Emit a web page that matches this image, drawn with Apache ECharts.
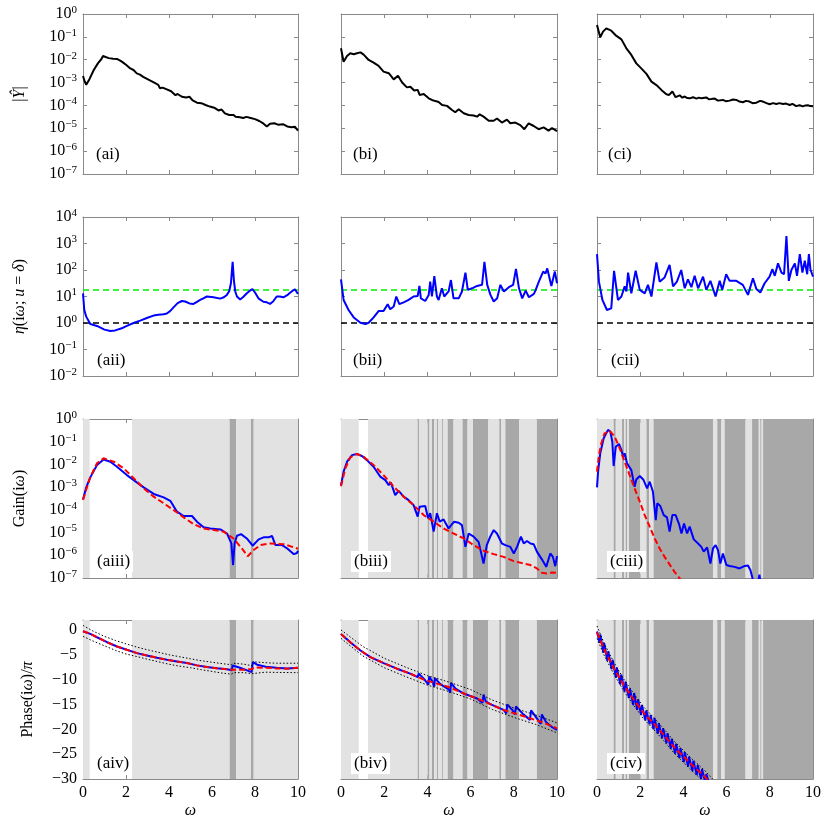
<!DOCTYPE html>
<html><head><meta charset="utf-8">
<script src="https://cdn.jsdelivr.net/npm/echarts@6/dist/echarts.min.js"></script>
<style>html,body{margin:0;padding:0;background:#fff}#c{width:830px;height:830px}</style>
</head><body><div id="c"></div>
<script>
// ---------- DATA (log10 values for log rows) ----------
const absY_ai = [[0,-2.71],[0.08,-2.95],[0.15,-3.1],[0.3,-2.85],[0.5,-2.45],[0.7,-2.15],[0.85,-1.98],[0.93,-1.84],[1.05,-1.88],[1.2,-1.93],[1.4,-1.96],[1.6,-1.97],[1.77,-2.06],[1.9,-2.15],[2.0,-2.22],[2.2,-2.38],[2.35,-2.45],[2.5,-2.6],[2.65,-2.65],[2.8,-2.75],[3.0,-2.85],[3.2,-2.95],[3.4,-3.05],[3.5,-3.1],[3.58,-3.25],[3.7,-3.22],[3.9,-3.3],[4.1,-3.38],[4.3,-3.55],[4.4,-3.5],[4.6,-3.62],[4.8,-3.65],[4.95,-3.62],[5.1,-3.78],[5.3,-3.88],[5.5,-3.9],[5.7,-3.98],[5.9,-4.05],[6.1,-4.1],[6.3,-4.22],[6.45,-4.18],[6.6,-4.35],[6.8,-4.42],[7.0,-4.42],[7.1,-4.5],[7.3,-4.52],[7.45,-4.55],[7.6,-4.5],[7.8,-4.55],[8.0,-4.6],[8.2,-4.68],[8.4,-4.8],[8.55,-4.92],[8.7,-4.8],[8.9,-4.78],[9.1,-4.85],[9.3,-4.82],[9.5,-4.92],[9.7,-4.95],[9.85,-4.93],[10,-5.1]];
const absY_bi = [[0,-1.5],[0.12,-2.09],[0.28,-1.84],[0.43,-1.72],[0.59,-1.76],[0.74,-1.72],[0.9,-1.68],[1.05,-1.78],[1.28,-2.01],[1.51,-2.13],[1.74,-2.27],[1.97,-2.52],[2.21,-2.59],[2.44,-2.86],[2.64,-2.7],[2.83,-3.0],[3.05,-3.21],[3.21,-3.18],[3.39,-3.35],[3.55,-3.32],[3.64,-3.54],[3.83,-3.5],[4.06,-3.69],[4.21,-3.76],[4.37,-3.81],[4.52,-3.85],[4.68,-3.98],[4.91,-4.02],[5.14,-4.2],[5.29,-4.3],[5.45,-4.17],[5.68,-4.34],[5.91,-4.42],[6.14,-4.44],[6.3,-4.49],[6.42,-4.39],[6.6,-4.49],[6.84,-4.67],[7.07,-4.67],[7.22,-4.57],[7.45,-4.75],[7.68,-4.62],[7.84,-4.78],[8.07,-4.75],[8.3,-4.86],[8.49,-5.04],[8.69,-4.78],[8.92,-4.9],[9.15,-5.04],[9.38,-4.96],[9.61,-5.1],[9.77,-4.99],[10,-5.12]];
const absY_ci = [[0,-0.48],[0.15,-1.02],[0.28,-0.77],[0.43,-0.63],[0.66,-0.73],[0.9,-0.96],[1.13,-1.11],[1.36,-1.5],[1.59,-1.79],[1.82,-2.16],[2.05,-2.38],[2.29,-2.62],[2.52,-2.96],[2.75,-3.11],[2.98,-3.32],[3.21,-3.51],[3.34,-3.54],[3.49,-3.39],[3.64,-3.64],[3.83,-3.56],[3.95,-3.66],[4.06,-3.61],[4.18,-3.68],[4.29,-3.69],[4.45,-3.64],[4.6,-3.7],[4.72,-3.66],[4.83,-3.69],[5.06,-3.65],[5.18,-3.73],[5.29,-3.72],[5.45,-3.7],[5.6,-3.79],[5.83,-3.76],[5.98,-3.82],[6.14,-3.79],[6.3,-3.74],[6.45,-3.76],[6.6,-3.83],[6.75,-3.86],[6.9,-3.8],[7.06,-3.83],[7.2,-3.9],[7.38,-3.88],[7.55,-3.8],[7.68,-3.83],[7.85,-3.9],[7.99,-3.95],[8.15,-3.9],[8.3,-3.94],[8.45,-3.9],[8.61,-3.94],[8.75,-3.92],[8.92,-3.98],[9.05,-3.93],[9.22,-4.03],[9.38,-3.99],[9.53,-4.04],[9.65,-4.0],[9.76,-3.99],[9.88,-4.03],[10,-4.04]];

const eta_aii = [[0,1.12],[0.06,0.49],[0.15,0.24],[0.34,-0.04],[0.65,-0.11],[1.0,-0.25],[1.27,-0.3],[1.5,-0.28],[1.8,-0.2],[2.04,-0.11],[2.35,0.0],[2.66,0.09],[3.0,0.2],[3.28,0.28],[3.5,0.31],[3.75,0.33],[3.9,0.36],[4.05,0.45],[4.21,0.59],[4.4,0.75],[4.6,0.83],[4.75,0.81],[4.95,0.74],[5.14,0.72],[5.3,0.8],[5.45,0.87],[5.6,0.93],[5.76,1.0],[6.07,0.97],[6.38,0.92],[6.55,0.97],[6.69,1.06],[6.8,1.2],[6.88,1.5],[6.96,2.31],[7.02,1.6],[7.08,1.2],[7.16,1.0],[7.31,0.89],[7.45,0.98],[7.62,1.12],[7.76,1.22],[7.88,1.28],[8.0,1.15],[8.16,0.93],[8.39,0.8],[8.55,0.78],[8.7,0.72],[8.85,0.82],[9.01,1.0],[9.15,1.0],[9.32,0.97],[9.5,1.05],[9.63,1.14],[9.75,1.22],[9.86,1.27],[9.93,1.18],[10,1.1]];
const eta_bii = [[0,1.65],[0.12,0.87],[0.35,0.49],[0.59,0.21],[0.9,0.01],[1.13,-0.04],[1.28,0.01],[1.51,0.21],[1.74,0.45],[1.97,0.45],[2.16,0.71],[2.28,0.52],[2.44,0.62],[2.56,1.0],[2.7,0.71],[2.9,0.78],[3.13,0.87],[3.36,1.0],[3.55,1.02],[3.63,1.4],[3.7,0.93],[3.9,0.83],[4.06,1.06],[4.13,1.56],[4.21,1.0],[4.32,1.77],[4.44,1.0],[4.52,0.87],[4.67,1.31],[4.78,1.0],[4.98,1.19],[5.09,1.62],[5.21,0.93],[5.45,0.93],[5.6,1.19],[5.76,1.9],[5.87,1.25],[6.07,1.31],[6.3,1.4],[6.53,1.44],[6.64,2.31],[6.77,1.44],[6.92,1.06],[7.07,0.81],[7.23,0.93],[7.38,1.44],[7.54,1.19],[7.77,1.35],[7.97,1.44],[8.1,2.04],[8.24,1.31],[8.39,0.93],[8.55,1.22],[8.7,0.97],[8.93,1.1],[9.0,1.22],[9.16,1.56],[9.36,1.94],[9.47,1.87],[9.55,2.06],[9.74,1.4],[9.9,1.94],[10,1.5]];
const eta_cii = [[0,2.6],[0.09,1.56],[0.25,0.87],[0.46,0.49],[0.66,0.55],[0.79,1.97],[0.97,0.87],[1.13,1.0],[1.28,1.38],[1.36,1.19],[1.44,1.9],[1.59,1.12],[1.79,1.97],[1.98,1.25],[2.21,1.12],[2.36,1.44],[2.52,1.0],[2.75,2.29],[2.9,1.56],[3.13,1.72],[3.36,2.19],[3.52,1.38],[3.7,1.56],[3.9,2.0],[4.06,1.31],[4.21,1.65],[4.37,1.35],[4.52,1.78],[4.68,1.31],[4.91,1.75],[5.06,1.25],[5.25,1.59],[5.49,1.0],[5.68,1.59],[5.8,1.25],[5.98,1.84],[6.14,1.59],[6.45,1.59],[6.75,1.44],[6.99,1.06],[7.22,1.69],[7.38,1.28],[7.56,1.15],[7.76,1.5],[7.99,1.75],[8.12,2.03],[8.23,1.78],[8.38,2.25],[8.54,1.9],[8.66,1.84],[8.77,3.28],[8.88,1.59],[9.0,2.0],[9.16,2.25],[9.26,1.78],[9.39,2.6],[9.51,1.9],[9.62,2.35],[9.73,1.84],[9.81,2.6],[9.88,2.03],[10,1.75]];
const etaThreshold = 1.245;   // log10 of the green dashed level (~17.6)
const etaUnity = 0;           // log10(1)

const gainBlue_a = [[0,-3.54],[0.15,-3.01],[0.34,-2.57],[0.65,-2.03],[0.96,-1.78],[1.27,-1.88],[1.58,-2.1],[2.04,-2.47],[2.36,-2.69],[2.82,-3.01],[3.29,-3.3],[3.75,-3.45],[4.06,-3.6],[4.37,-4.08],[4.68,-4.27],[5.07,-4.27],[5.3,-4.52],[5.61,-4.77],[5.92,-4.82],[6.39,-4.86],[6.7,-5.04],[6.9,-5.48],[6.98,-6.43],[7.05,-5.48],[7.16,-5.14],[7.35,-5.07],[7.62,-5.26],[7.89,-5.58],[8.17,-5.3],[8.4,-5.21],[8.63,-5.21],[8.79,-5.15],[8.95,-5.55],[9.26,-5.55],[9.5,-5.7],[9.81,-5.95],[9.95,-5.9],[10,-5.8]];
const gainRed_a = [[0,-3.56],[0.34,-2.55],[0.65,-1.95],[0.96,-1.73],[1.43,-1.88],[1.89,-2.17],[2.36,-2.61],[2.82,-3.05],[3.29,-3.42],[3.75,-3.71],[4.22,-4.01],[4.68,-4.33],[5.15,-4.63],[5.61,-4.82],[6.08,-4.89],[6.54,-4.96],[7.0,-5.26],[7.39,-5.7],[7.66,-6.04],[7.94,-5.77],[8.25,-5.55],[8.71,-5.48],[9.33,-5.51],[10,-5.71]];
const gainBlue_b = [[0,-2.91],[0.12,-2.32],[0.28,-1.88],[0.51,-1.59],[0.74,-1.54],[0.97,-1.63],[1.2,-1.81],[1.51,-2.1],[1.82,-2.54],[2.05,-2.69],[2.21,-2.91],[2.31,-2.8],[2.51,-3.35],[2.67,-3.16],[2.9,-3.42],[3.13,-3.57],[3.36,-3.79],[3.55,-4.3],[3.64,-3.86],[3.9,-3.83],[4.03,-4.37],[4.13,-4.15],[4.29,-4.96],[4.44,-4.15],[4.57,-4.52],[4.75,-4.42],[4.98,-4.82],[5.24,-4.52],[5.45,-4.57],[5.6,-4.67],[5.76,-5.63],[5.91,-5.04],[6.14,-5.18],[6.37,-5.41],[6.6,-6.36],[6.75,-5.55],[6.91,-5.18],[7.07,-4.89],[7.22,-5.04],[7.45,-5.48],[7.61,-5.55],[7.84,-5.63],[8.0,-5.92],[8.15,-5.63],[8.33,-5.18],[8.46,-5.48],[8.61,-5.37],[8.77,-5.48],[8.92,-5.51],[9.07,-5.84],[9.3,-6.18],[9.5,-6.51],[9.69,-5.92],[9.81,-6.07],[9.92,-6.48],[10,-6.04]];
const gainRed_b = [[0,-2.96],[0.2,-2.17],[0.43,-1.69],[0.74,-1.54],[1.05,-1.66],[1.51,-2.03],[1.97,-2.47],[2.44,-2.98],[2.9,-3.42],[3.36,-3.79],[3.83,-4.23],[4.29,-4.52],[4.75,-4.82],[5.21,-5.04],[5.68,-5.26],[6.14,-5.55],[6.6,-5.8],[7.07,-5.95],[7.53,-6.07],[8.0,-6.26],[8.46,-6.36],[8.77,-6.43],[9.07,-6.58],[9.3,-6.77],[9.53,-6.8],[9.76,-6.76],[10,-6.77]];
const gainBlue_c = [[0,-3.01],[0.05,-2.32],[0.15,-1.51],[0.31,-0.85],[0.51,-0.48],[0.62,-0.56],[0.71,-1.0],[0.77,-2.07],[0.87,-1.22],[1.02,-1.1],[1.13,-1.37],[1.21,-1.66],[1.28,-1.51],[1.39,-1.95],[1.48,-1.92],[1.59,-2.25],[1.74,-2.98],[1.82,-2.66],[1.98,-2.51],[2.14,-2.66],[2.32,-3.05],[2.44,-2.76],[2.59,-3.2],[2.72,-4.45],[2.79,-3.71],[2.93,-3.83],[3.09,-4.23],[3.24,-4.33],[3.36,-4.96],[3.49,-4.23],[3.64,-4.23],[3.8,-4.63],[3.91,-5.04],[4.03,-4.6],[4.17,-5.04],[4.29,-4.74],[4.48,-5.3],[4.68,-5.48],[4.83,-5.63],[4.94,-5.84],[5.1,-5.65],[5.25,-6.36],[5.37,-5.7],[5.49,-5.55],[5.6,-5.77],[5.71,-6.36],[5.83,-5.92],[5.99,-6.43],[6.14,-6.47],[6.37,-6.51],[6.6,-6.58],[6.84,-6.47],[6.99,-6.45],[7.1,-6.65],[7.19,-6.97],[7.3,-7.5],[7.45,-7.2],[7.52,-6.85],[7.6,-7.4],[7.7,-8.0]];
const gainRed_c = [[0,-2.32],[0.09,-1.59],[0.2,-1.07],[0.35,-0.63],[0.59,-0.52],[0.82,-0.78],[1.05,-1.29],[1.28,-1.88],[1.51,-2.47],[1.74,-3.05],[1.98,-3.64],[2.21,-4.23],[2.44,-4.74],[2.67,-5.26],[2.9,-5.7],[3.13,-6.07],[3.36,-6.4],[3.59,-6.73],[3.83,-7.02],[4.0,-7.3]];

const phaseRed_a = [[0,-0.27],[0.34,-0.8],[0.65,-1.47],[1.12,-2.47],[1.58,-3.33],[2.04,-4.0],[2.51,-4.67],[2.97,-5.13],[3.44,-5.6],[3.9,-6.0],[4.37,-6.33],[4.83,-6.67],[5.3,-7.13],[5.76,-7.47],[6.23,-7.73],[6.7,-7.93],[6.95,-8.0],[7.0,-7.75],[7.47,-8.0],[7.85,-7.85],[8.0,-7.55],[8.5,-7.6],[9.0,-7.75],[9.5,-7.8],[10,-7.6]];
const phaseBlue_a = [[0,-0.27],[0.34,-0.8],[0.65,-1.47],[1.12,-2.47],[1.58,-3.33],[2.04,-4.0],[2.51,-4.67],[2.97,-5.13],[3.44,-5.6],[3.9,-6.0],[4.37,-6.33],[4.83,-6.67],[5.3,-7.13],[5.76,-7.47],[6.23,-7.73],[6.7,-7.93],[6.92,-8.1],[6.96,-7.15],[7.3,-7.6],[7.6,-8.1],[7.84,-8.5],[7.9,-6.5],[8.1,-7.0],[8.5,-7.4],[9.0,-7.6],[9.5,-7.75],[10,-7.6]];
const phaseUp_a = [[0,0.9],[0.5,-0.3],[1,-1.3],[1.5,-2.1],[2,-2.8],[2.5,-3.45],[3,-4.0],[3.5,-4.5],[4,-5.0],[4.5,-5.4],[5,-5.8],[5.5,-6.2],[6,-6.5],[6.5,-6.8],[6.9,-7.0],[7.0,-6.7],[7.5,-6.9],[7.85,-7.2],[7.9,-6.4],[8.5,-6.6],[9,-6.7],[10,-6.7]];
const phaseLo_a = [[0,-1.3],[0.5,-2.3],[1,-3.2],[1.5,-4.1],[2,-4.85],[2.5,-5.35],[3,-5.9],[3.5,-6.4],[4,-6.9],[4.5,-7.3],[5,-7.6],[5.5,-8.0],[6,-8.35],[6.5,-8.7],[6.9,-8.9],[7.0,-8.6],[7.5,-8.6],[7.85,-8.8],[7.9,-8.4],[8.5,-8.5],[9,-8.55],[10,-8.6]];
const phaseRed_b = [[0,-0.8],[0.43,-2.47],[0.9,-4.13],[1.36,-5.47],[1.97,-6.67],[2.59,-7.8],[3.21,-8.8],[3.83,-10.0],[4.44,-10.8],[5.06,-11.6],[5.68,-12.8],[6.3,-13.8],[6.91,-14.93],[7.53,-16.13],[8.15,-16.93],[8.77,-17.8],[9.38,-18.67],[10,-19.8]];
const phaseBlue_b = [[0,-0.8],[0.43,-2.47],[0.9,-4.13],[1.36,-5.47],[1.97,-6.67],[2.59,-7.8],[3.2,-8.8],[3.55,-9.5],[3.6,-8.8],[3.83,-9.8],[4.05,-11.0],[4.08,-9.4],[4.25,-10.5],[4.32,-11.4],[4.35,-9.7],[4.6,-10.9],[5.0,-12.0],[5.05,-12.6],[5.1,-10.7],[5.3,-11.8],[5.68,-12.8],[6.3,-13.8],[6.55,-14.7],[6.6,-13.0],[6.7,-14.4],[6.91,-14.93],[7.53,-16.1],[7.65,-16.8],[7.7,-15.0],[7.95,-16.2],[8.05,-17.0],[8.1,-15.4],[8.4,-16.8],[8.75,-18.1],[8.8,-16.2],[9.0,-17.4],[9.25,-18.9],[9.3,-17.0],[9.5,-18.6],[9.75,-19.5],[10,-20.1]];
const phaseUp_b = [[0,0.0],[1,-3.3],[2,-5.7],[3,-7.5],[4,-9.2],[5,-10.5],[6,-12.0],[7,-14.1],[8,-15.7],[9,-17.1],[10,-18.7]];
const phaseLo_b = [[0,-1.7],[1,-5.2],[2,-7.6],[3,-9.4],[4,-11.1],[5,-12.4],[6,-13.9],[7,-16.0],[8,-17.6],[9,-19.0],[10,-20.7]];
const phaseRed_c = [[0,-0.47],[0.32,-3.8],[0.79,-7.8],[1.24,-11.1],[1.7,-14.0],[2.16,-16.7],[2.62,-18.8],[3.09,-21.1],[3.55,-23.5],[4.01,-25.5],[4.48,-27.5],[4.94,-29.3],[5.2,-30.5]];
const phaseBlue_c = [[0,-0.3],[0.12,-2.6],[0.15,-0.9],[0.3,-4.6],[0.33,-2.6],[0.48,-6.2],[0.52,-4.3],[0.68,-7.9],[0.72,-6.0],[0.88,-9.6],[0.92,-7.6],[1.08,-11.0],[1.12,-9.0],[1.28,-12.4],[1.32,-10.4],[1.48,-13.7],[1.52,-11.8],[1.68,-15.1],[1.72,-12.7],[1.86,-16.1],[1.9,-14.0],[2.04,-17.1],[2.08,-15.1],[2.24,-18.2],[2.28,-16.2],[2.44,-19.0],[2.48,-17.1],[2.62,-20.0],[2.66,-17.7],[2.82,-20.9],[2.86,-18.8],[3.02,-21.8],[3.06,-19.8],[3.22,-22.8],[3.26,-20.8],[3.42,-23.9],[3.46,-21.9],[3.62,-24.9],[3.66,-22.9],[3.82,-25.8],[3.86,-23.8],[4.02,-26.6],[4.06,-24.6],[4.22,-27.5],[4.26,-25.5],[4.42,-28.4],[4.46,-26.3],[4.62,-29.2],[4.66,-27.2],[4.82,-30.0],[4.86,-28.0],[5.02,-30.8],[5.06,-29.0],[5.2,-31]];
const phaseUp_c = [[0,0.8],[0.32,-2.6],[0.79,-6.6],[1.24,-9.9],[1.7,-12.8],[2.16,-15.5],[2.62,-17.6],[3.09,-19.9],[3.55,-22.3],[4.01,-24.3],[4.48,-26.3],[4.94,-28.1],[5.4,-30.2]];
const phaseLo_c = [[0,-1.7],[0.32,-5.0],[0.79,-9.0],[1.24,-12.3],[1.7,-15.2],[2.16,-17.9],[2.62,-20.0],[3.09,-22.3],[3.55,-24.7],[4.01,-26.7],[4.48,-28.7],[4.94,-30.5]];

// shaded frequency bands: [from, to, level] (1 = light, 2 = dark)
const bands_a = [[0,0.31,1],[2.28,6.82,1],[6.82,7.12,2],[7.12,7.81,1],[7.81,7.94,2],[7.94,10,1]];
const bands_b = [[0,0.82,1],[1.25,3.55,1],[3.55,3.61,2],[3.61,4.01,1],[4.01,4.1,2],[4.1,4.21,1],[4.21,4.32,2],[4.32,4.44,1],[4.44,4.49,2],[4.49,4.68,1],[4.68,4.72,2],[4.72,4.94,1],[4.94,5.21,2],[5.21,5.63,1],[5.63,5.86,2],[5.86,6.11,1],[6.11,6.82,2],[6.82,7.33,1],[7.33,7.41,2],[7.41,7.61,1],[7.61,8.25,2],[8.25,9.07,1],[9.07,10,2]];
const bands_c = [[0,0.77,1],[0.77,0.87,2],[0.87,1.16,1],[1.16,1.25,2],[1.25,1.33,1],[1.33,1.39,2],[1.39,1.48,1],[1.48,2.01,2],[2.01,2.29,1],[2.29,2.41,2],[2.41,2.62,1],[2.62,5.37,2],[5.37,5.57,1],[5.57,5.76,2],[5.76,5.91,1],[5.91,6.88,2],[6.88,7.18,1],[7.18,7.49,2],[7.49,7.56,1],[7.56,7.62,2],[7.62,7.69,1],[7.69,10,2]];

const panelLabels = [['(ai)','(bi)','(ci)'],['(aii)','(bii)','(cii)'],['(aiii)','(biii)','(ciii)'],['(aiv)','(biv)','(civ)']];

// ---------- LAYOUT / STYLE ----------
const FONT = '"Liberation Serif","DejaVu Serif",serif';
const FRAME = '#8a8a8a', LIGHT = '#e2e2e2', DARK = '#a8a8a8';
const colLeft = [83, 341, 597], colW = [215, 216, 216];
const rowTop = [14, 217, 419, 620], rowH = [160, 159, 159, 159];
const yExt = [[-7, 0], [-2, 4], [-7, 0], [-30, 2]];

function expLabel(v) {
  const e = Math.round(v);
  const s = e < 0 ? '\u2212' + (-e) : '' + e;
  return '{b|10}{s|' + s + '}';
}
const expRich = {
  b: {fontSize: 16, fontFamily: FONT, color: '#000', lineHeight: 19},
  s: {fontSize: 11, fontFamily: FONT, color: '#000', verticalAlign: 'top', lineHeight: 11}
};
const yNames = [
  {t: '|{i|Ŷ}|', gap: 55},
  {t: '{i|η}(i{i|ω}; {i|u} = {i|δ})', gap: 55},
  {t: 'Gain(i{i|ω})', gap: 55},
  {t: 'Phase(i{i|ω})/{i|π}', gap: 47}
];
const nameRich = {
  i: {fontStyle: 'italic', fontSize: 16, fontFamily: FONT, color: '#000'}
};

const grids = [], xAxes = [], yAxes = [], series = [], graphics = [];
for (let r = 0; r < 4; r++) {
  for (let c = 0; c < 3; c++) {
    const gi = r * 3 + c;
    grids.push({left: colLeft[c], top: rowTop[r], width: colW[c], height: rowH[r], containLabel: false});
    const xBase = {
      gridIndex: gi, type: 'value', min: 0, max: 10, interval: 2,
      axisLine: {show: true, onZero: false, lineStyle: {color: FRAME, width: 1}},
      axisTick: {show: true, inside: true, length: 4, lineStyle: {color: FRAME}},
      splitLine: {show: false}
    };
    xAxes.push(Object.assign({}, xBase, {
      position: 'bottom',
      axisLabel: {show: r === 3, color: '#000', fontSize: 16, fontFamily: FONT, margin: 6},
      name: r === 3 ? 'ω' : '', nameLocation: 'middle', nameGap: 24,
      nameTextStyle: {fontStyle: 'italic', fontSize: 16, fontFamily: FONT, color: '#000'}
    }));
    xAxes.push(Object.assign({}, xBase, {position: 'top', axisLabel: {show: false}}));
    const [ymin, ymax] = yExt[r];
    const yBase = {
      gridIndex: gi, type: 'value', min: ymin, max: ymax, interval: r === 3 ? 5 : 1,
      axisLine: {show: true, onZero: false, lineStyle: {color: FRAME, width: 1}},
      axisTick: {show: true, inside: true, length: 4, lineStyle: {color: FRAME}},
      splitLine: {show: false}
    };
    const labelCfg = r === 3
      ? {show: c === 0, color: '#000', fontSize: 16, fontFamily: FONT, margin: 6, showMaxLabel: false,
         formatter: v => v < 0 ? '\u2212' + (-v) : String(v)}
      : {show: c === 0, margin: 6, formatter: expLabel, rich: expRich};
    yAxes.push(Object.assign({}, yBase, {
      position: 'left', axisLabel: labelCfg,
      name: c === 0 ? yNames[r].t : '', nameLocation: 'middle', nameGap: yNames[r].gap,
      nameTextStyle: {fontSize: 16, fontFamily: FONT, color: '#000', rich: nameRich}
    }));
    yAxes.push(Object.assign({}, yBase, {position: 'right', axisLabel: {show: false}}));
  }
}

function ls(gi, data, color, width, type, z) {
  return {type: 'line', xAxisIndex: gi * 2, yAxisIndex: gi * 2, data: data,
    symbol: 'none', showSymbol: false, clip: true, silent: true, animation: false,
    lineStyle: {color: color, width: width, type: type}, z: z};
}
function bandSeries(gi, bands, ymin, ymax) {
  return {type: 'custom', xAxisIndex: gi * 2, yAxisIndex: gi * 2, data: bands,
    encode: {x: [0, 1], y: 2}, z: 1, silent: true, animation: false,
    renderItem: (p, api) => {
      const a = api.coord([api.value(0), ymax]);
      const b = api.coord([api.value(1), ymin]);
      return {type: 'rect', shape: {x: a[0], y: a[1], width: b[0] - a[0], height: b[1] - a[1]},
        style: {fill: api.value(2) === 2 ? DARK : LIGHT}};
    }};
}

// row 1
[absY_ai, absY_bi, absY_ci].forEach((d, c) => series.push(ls(c, d, '#000', 2, 'solid', 3)));
// row 2
[eta_aii, eta_bii, eta_cii].forEach((d, c) => {
  const gi = 3 + c;
  series.push(ls(gi, [[0, etaThreshold], [10, etaThreshold]], '#00ee00', 1.6, [6, 4], 2));
  series.push(ls(gi, [[0, etaUnity], [10, etaUnity]], '#000', 1.6, [6, 4], 2));
  series.push(ls(gi, d, '#0000ff', 2, 'solid', 3));
});
// row 3
const bandsAll = [bands_a, bands_b, bands_c];
[[gainBlue_a, gainRed_a], [gainBlue_b, gainRed_b], [gainBlue_c, gainRed_c]].forEach((p, c) => {
  const gi = 6 + c;
  series.push(bandSeries(gi, bandsAll[c], -7, 0));
  series.push(ls(gi, p[0], '#0000ff', 2, 'solid', 3));
  series.push(ls(gi, p[1], '#ff0000', 2, [6, 3], 4));
});
// row 4
[[phaseBlue_a, phaseRed_a, phaseUp_a, phaseLo_a], [phaseBlue_b, phaseRed_b, phaseUp_b, phaseLo_b], [phaseBlue_c, phaseRed_c, phaseUp_c, phaseLo_c]].forEach((p, c) => {
  const gi = 9 + c;
  series.push(bandSeries(gi, bandsAll[c], -30, 2));
  series.push(ls(gi, p[0], '#0000ff', 2, 'solid', 3));
  series.push(ls(gi, p[1], '#ff0000', 2, [6, 3], 4));
  series.push(ls(gi, p[2], '#000', 1, [1.5, 2], 4));
  series.push(ls(gi, p[3], '#000', 1, [1.5, 2], 4));
});

// panel labels
const labelLeft = [[96, 353, 608], [97, 353, 611], [94, 351, 607], [94, 351, 607]];
const labelMid = [156, 362, 563, 765];
for (let r = 0; r < 4; r++) for (let c = 0; c < 3; c++) {
  const boxed = r >= 2;
  graphics.push({type: 'text', left: labelLeft[r][c], top: labelMid[r] - (boxed ? 12 : 10), z: 100,
    style: {text: panelLabels[r][c], font: '17px ' + FONT, fill: '#000',
      backgroundColor: boxed ? '#fff' : null, padding: boxed ? [2, 3, 2, 3] : 0}});
}

const chart = echarts.init(document.getElementById('c'), null, {renderer: 'canvas'});
chart.setOption({animation: false, grid: grids, xAxis: xAxes, yAxis: yAxes, series: series, graphic: graphics});
</script></body></html>
